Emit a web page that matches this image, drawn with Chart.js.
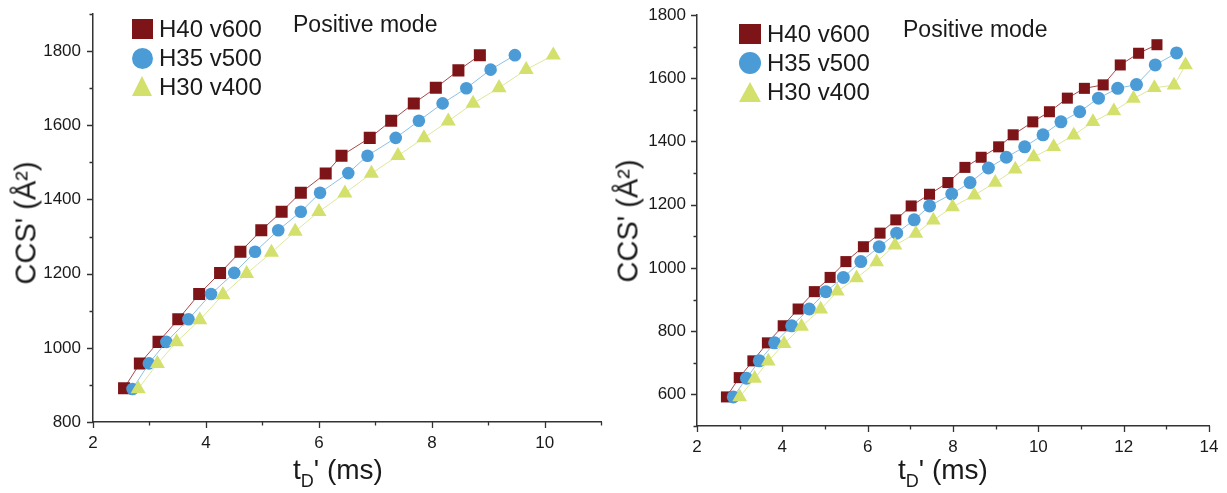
<!DOCTYPE html>
<html>
<head>
<meta charset="utf-8">
<script src="https://cdn.jsdelivr.net/npm/chart.js@4.4.1/dist/chart.umd.min.js"></script>
<style>
  html, body { margin: 0; padding: 0; background: #fff; }
  #stage { position: relative; width: 1227px; height: 493px; overflow: hidden;
           font-family: "Liberation Sans", Arial, sans-serif; color: #1a1a1a; }
  .panel { position: absolute; top: 0; height: 493px; }
  .txt { position: absolute; white-space: nowrap; }
  .leg { font-size: 24px; line-height: 24px; }
  .mode { font-size: 23px; line-height: 24px; }
  .ytitle { font-size: 29px; line-height: 29px; transform: translate(-50%, -50%) rotate(-90deg); }
  .xtitle { font-size: 28px; line-height: 28px; }
  .xtitle .sub { font-size: 18px; position: relative; top: 8px; }
  .mk { position: absolute; }
  .sq { background: #7d1417; }
  .ci { background: #4b9cd6; border-radius: 50%; }
  .tri { width: 0; height: 0; border-style: solid; border-color: transparent transparent #d4e06c transparent; }
</style>
</head>
<body>
<div id="stage">
  <div class="panel" style="left:0;width:610px"><canvas id="cLeft"></canvas></div>
  <div class="panel" style="left:610px;width:617px"><canvas id="cRight"></canvas></div>

  <!-- left panel texts -->
  <div class="mk sq"  style="left:132px;top:19px;width:21px;height:20px"></div>
  <div class="mk ci"  style="left:132px;top:48px;width:21px;height:21px"></div>
  <div class="mk tri" style="left:132px;top:76px;border-width:0 10.5px 20px 10.5px"></div>
  <div class="txt leg" style="left:159px;top:17px">H40 v600</div>
  <div class="txt leg" style="left:159px;top:46px">H35 v500</div>
  <div class="txt leg" style="left:159px;top:75px">H30 v400</div>
  <div class="txt mode" style="left:293px;top:12px">Positive mode</div>
  <div class="txt ytitle" style="left:26px;top:223px">CCS' (Å²)</div>
  <div class="txt xtitle" style="left:293px;top:456px">t<span class="sub">D</span>' (ms)</div>

  <!-- right panel texts -->
  <div class="mk sq"  style="left:739px;top:24px;width:22px;height:20px"></div>
  <div class="mk ci"  style="left:739px;top:52px;width:22px;height:22px"></div>
  <div class="mk tri" style="left:739px;top:82px;border-width:0 11px 20px 11px"></div>
  <div class="txt leg" style="left:767px;top:22px">H40 v600</div>
  <div class="txt leg" style="left:767px;top:51px">H35 v500</div>
  <div class="txt leg" style="left:767px;top:80px">H30 v400</div>
  <div class="txt mode" style="left:903px;top:17px">Positive mode</div>
  <div class="txt ytitle" style="left:628px;top:221px">CCS' (Å²)</div>
  <div class="txt xtitle" style="left:898px;top:456px">t<span class="sub">D</span>' (ms)</div>
</div>

<script>
/* ---- data: drift time tD' (ms) vs CCS' (Å²) ---- */
const seriesNames = ['H40 v600', 'H35 v500', 'H30 v400'];

// left panel
const leftTdH40  = [2.55, 2.83, 3.16, 3.51, 3.88, 4.25, 4.61, 4.98, 5.34, 5.68, 6.12, 6.40, 6.90, 7.28, 7.68, 8.07, 8.47, 8.85];
const leftCcsH40 = [891, 958, 1016, 1077, 1145, 1202, 1259, 1317, 1367, 1418, 1470, 1518, 1566, 1612, 1659, 1701, 1748, 1789];
const leftTdH35  = [2.70, 2.99, 3.30, 3.69, 4.09, 4.50, 4.87, 5.28, 5.68, 6.02, 6.52, 6.86, 7.36, 7.77, 8.19, 8.61, 9.04, 9.47];
const leftCcsH35 = [889, 958, 1016, 1077, 1145, 1202, 1259, 1317, 1367, 1418, 1471, 1518, 1566, 1612, 1659, 1700, 1750, 1789];
const leftTdH30  = [2.80, 3.14, 3.48, 3.89, 4.30, 4.72, 5.16, 5.58, 6.00, 6.46, 6.93, 7.40, 7.86, 8.29, 8.73, 9.19, 9.67, 10.15];
const leftCcsH30 = [889, 957, 1016, 1075, 1143, 1200, 1257, 1314, 1367, 1417, 1470, 1518, 1566, 1611, 1659, 1701, 1750, 1789];

// right panel
const rightTdH40  = [2.69, 2.99, 3.31, 3.65, 4.02, 4.37, 4.75, 5.12, 5.49, 5.90, 6.29, 6.66, 7.02, 7.45, 7.88, 8.28, 8.66, 9.07, 9.41, 9.87, 10.26, 10.68, 11.08, 11.52, 11.92, 12.35, 12.78];
const rightCcsH40 = [592, 653, 706, 763, 817, 870, 925, 970, 1020, 1067, 1110, 1152, 1196, 1233, 1270, 1318, 1350, 1383, 1421, 1462, 1494, 1537, 1568, 1579, 1642, 1679, 1706];
const rightTdH35  = [2.85, 3.16, 3.46, 3.82, 4.22, 4.63, 5.02, 5.43, 5.84, 6.27, 6.68, 7.09, 7.45, 7.97, 8.40, 8.83, 9.25, 9.68, 10.11, 10.53, 10.97, 11.41, 11.86, 12.30, 12.74, 13.24];
const rightCcsH35 = [592, 651, 706, 763, 817, 870, 925, 970, 1020, 1067, 1110, 1152, 1196, 1234, 1270, 1316, 1350, 1383, 1421, 1462, 1494, 1537, 1568, 1580, 1642, 1680];
const rightTdH30  = [3.00, 3.35, 3.67, 4.04, 4.45, 4.90, 5.29, 5.74, 6.21, 6.64, 7.13, 7.54, 7.99, 8.50, 8.99, 9.46, 9.89, 10.36, 10.83, 11.28, 11.77, 12.23, 12.72, 13.18, 13.45];
const rightCcsH30 = [592, 650, 705, 760, 815, 869, 926, 968, 1019, 1072, 1109, 1151, 1193, 1230, 1270, 1312, 1351, 1383, 1420, 1462, 1496, 1536, 1570, 1578, 1642];

// axis ticks (labelled majors, unlabelled minors)
const leftXMajor  = [2, 4, 6, 8, 10];
const leftXMinor  = [3, 5, 7, 9, 11];
const leftYMajor  = [800, 1000, 1200, 1400, 1600, 1800];
const leftYMinor  = [900, 1100, 1300, 1500, 1700, 1900];
const rightXMajor = [2, 4, 6, 8, 10, 12, 14];
const rightXMinor = [3, 5, 7, 9, 11, 13];
const rightYMajor = [600, 800, 1000, 1200, 1400, 1600, 1800];
const rightYMinor = [500, 700, 900, 1100, 1300, 1500, 1700];

const COLORS = ['#7d1417', '#4b9cd6', '#d4e06c'];
const LINE_COLORS = ['#a8474a', '#8cc0e6', '#dfe79a'];
const STYLES = ['rect', 'circle', 'triangle'];
const AXIS = '#333';

const zip = (xs, ys) => xs.map((x, i) => ({ x: x, y: ys[i] }));

/* Draw outward major/minor tick marks off the scales. */
const tickMarks = {
  id: 'tickMarks',
  afterDraw(chart, args, o) {
    const { ctx, chartArea: a, scales: { x, y } } = chart;
    ctx.save();
    ctx.strokeStyle = AXIS;
    ctx.lineWidth = 1.3;
    ctx.beginPath();
    const xt = (v, len) => { const p = Math.round(x.getPixelForValue(v)) + 0.5; ctx.moveTo(p, a.bottom); ctx.lineTo(p, a.bottom + len); };
    const yt = (v, len) => { const p = Math.round(y.getPixelForValue(v)) + 0.5; ctx.moveTo(a.left, p); ctx.lineTo(a.left - len, p); };
    o.xMajor.forEach(v => xt(v, 6));
    o.xMinor.forEach(v => xt(v, 3.5));
    o.yMajor.forEach(v => yt(v, 6));
    o.yMinor.forEach(v => yt(v, 3.5));
    ctx.stroke();
    ctx.restore();
  }
};

function makeChart(id, p) {
  const sets = [
    [p.td40, p.ccs40], [p.td35, p.ccs35], [p.td30, p.ccs30]
  ].map((s, i) => ({
    label: seriesNames[i],
    data: zip(s[0], s[1]),
    order: 3 - i,                // yellow on top, red at the bottom
    borderColor: LINE_COLORS[i],
    borderWidth: 1,
    pointStyle: STYLES[i],
    pointRadius: p.radius[i],
    pointBackgroundColor: COLORS[i],
    pointBorderColor: COLORS[i],
    pointBorderWidth: 0,
    showLine: true,
    tension: 0
  }));

  const labelFont = { family: '"Liberation Sans", Arial, sans-serif', size: 17 };
  const plain = v => String(v);   // no thousands separator
  return new Chart(document.getElementById(id), {
    type: 'scatter',
    data: { datasets: sets },
    options: {
      responsive: true,
      maintainAspectRatio: false,
      animation: false,
      devicePixelRatio: 1,
      layout: { padding: { left: 0, top: p.top, right: p.right, bottom: 0 } },
      plugins: {
        legend: { display: false },
        tooltip: { enabled: false },
        tickMarks: { xMajor: p.xMajor, xMinor: p.xMinor, yMajor: p.yMajor, yMinor: p.yMinor }
      },
      scales: {
        x: {
          type: 'linear', min: p.xMin, max: p.xMax,
          grid: { display: false, drawTicks: false },
          border: { display: true, color: AXIS, width: 1.5 },
          afterBuildTicks: s => { s.ticks = p.xMajor.map(v => ({ value: v })); },
          afterFit: s => { s.height = p.xHeight; s.paddingLeft = 0; s.paddingRight = 0; },
          ticks: { autoSkip: false, maxRotation: 0, padding: 11, color: '#1a1a1a', font: labelFont, callback: plain }
        },
        y: {
          type: 'linear', min: p.yMin, max: p.yMax,
          grid: { display: false, drawTicks: false },
          border: { display: true, color: AXIS, width: 1.5 },
          afterBuildTicks: s => { s.ticks = p.yMajor.map(v => ({ value: v })); },
          afterFit: s => { s.width = p.yWidth; s.paddingTop = 0; s.paddingBottom = 0; },
          ticks: { autoSkip: false, padding: p.yPad, color: '#1a1a1a', font: labelFont, callback: plain }
        }
      }
    },
    plugins: [tickMarks]
  });
}

makeChart('cLeft', {
  td40: leftTdH40, ccs40: leftCcsH40, td35: leftTdH35, ccs35: leftCcsH35, td30: leftTdH30, ccs30: leftCcsH30,
  xMin: 2, xMax: 11, yMin: 800, yMax: 1900,
  xMajor: leftXMajor, xMinor: leftXMinor, yMajor: leftYMajor, yMinor: leftYMinor,
  radius: [8.5, 6.3, 8.7],
  top: 14, right: 8, xHeight: 71, yWidth: 93, yPad: 12
});

makeChart('cRight', {
  td40: rightTdH40, ccs40: rightCcsH40, td35: rightTdH35, ccs35: rightCcsH35, td30: rightTdH30, ccs30: rightCcsH30,
  xMin: 2, xMax: 14, yMin: 500, yMax: 1800,
  xMajor: rightXMajor, xMinor: rightXMinor, yMajor: rightYMajor, yMinor: rightYMinor,
  radius: [7.8, 6.5, 8.5],
  top: 15, right: 18, xHeight: 67, yWidth: 87, yPad: 11
});
</script>
</body>
</html>
